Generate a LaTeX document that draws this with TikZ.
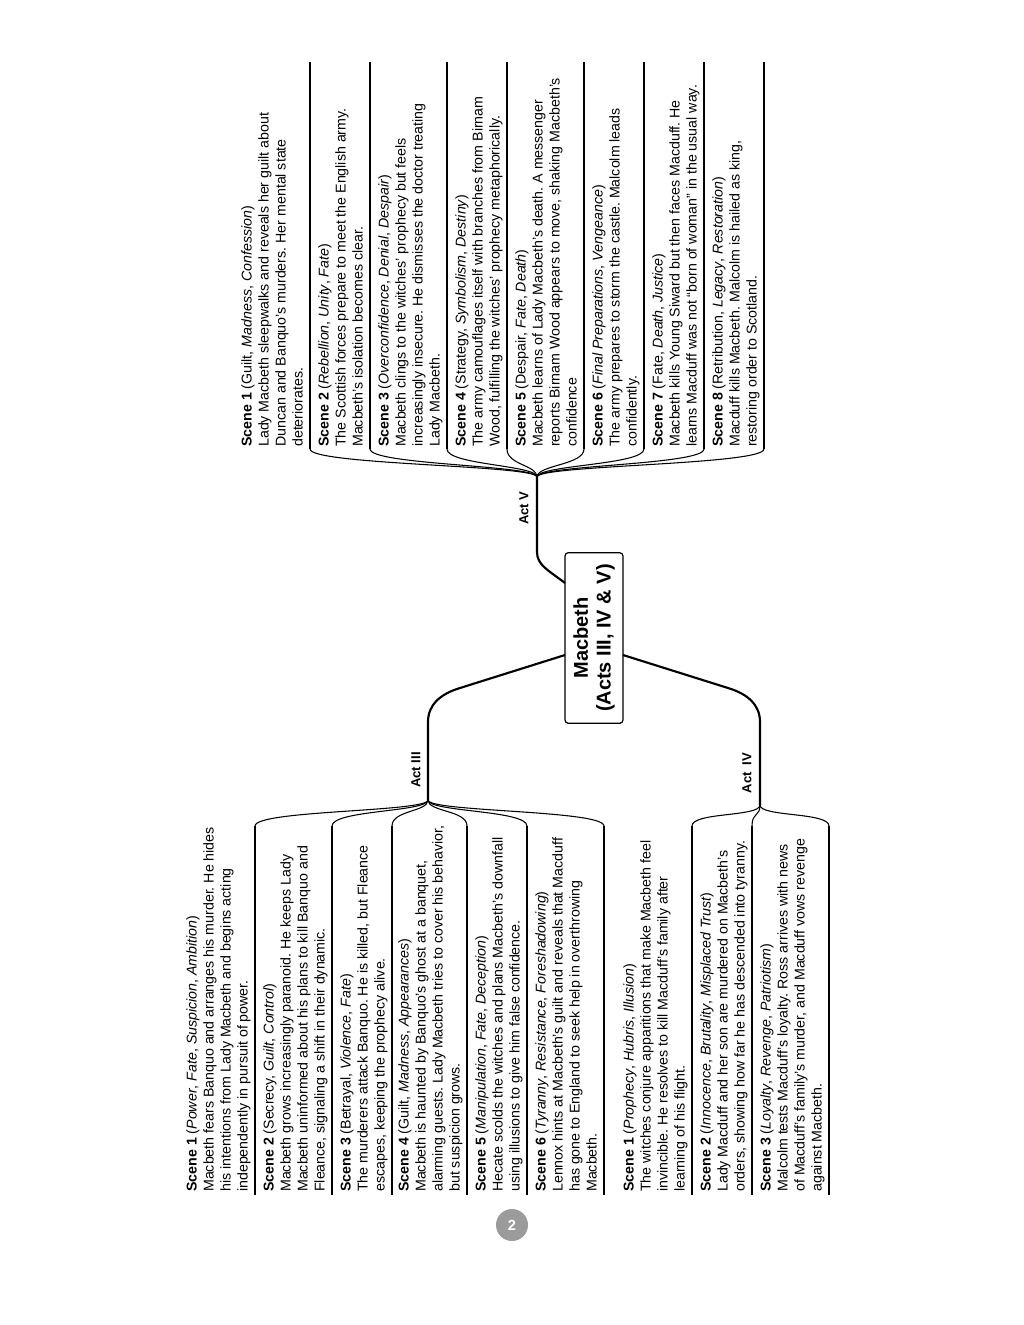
\documentclass[tikz,border=0pt]{standalone}
\usepackage{fontspec}
\setmainfont{Liberation Sans}
\definecolor{pnum}{HTML}{9B9B9B}
\frenchspacing
\begin{document}
\begin{tikzpicture}[x=0.75pt,y=-0.75pt,
  scene/.style={rotate=90, anchor=south west, align=left, inner sep=0pt,
    font=\fontsize{10.65}{12.75}\selectfont, text depth=3pt},
  uline/.style={line width=0.9pt},
  brace/.style={line width=0.8pt},
  stem/.style={line width=1.6pt},
  actlabel/.style={rotate=90, inner sep=0pt, font=\bfseries\fontsize{9.8}{12}\selectfont},
  mainbox/.style={rotate=90, draw, line width=0.9pt, rounded corners=2.5pt, align=center,
    minimum width=128pt, minimum height=43.5pt, inner sep=2pt,
    font=\bfseries\fontsize{15}{17}\selectfont}]
\useasboundingbox (0,0) rectangle (1024,1325);

% central node
\node[mainbox] (mb) at (594,638) {Macbeth\\(Acts III, IV \& V)};

% stems
\coordinate (m3) at (565,655); \coordinate (k3a) at (460,688); \coordinate (k3) at (428,722); \coordinate (b3) at (428,800);
\coordinate (m4) at (623,655); \coordinate (k4a) at (728,688); \coordinate (k4) at (760,722); \coordinate (b4) at (760,805);
\coordinate (m5) at (565,583); \coordinate (k5) at (537,552); \coordinate (b5) at (537,477);
\draw[stem] (m3) -- (k3a) .. controls (440,694) and (428,705) .. (k3) -- (b3);
\draw[stem] (m4) -- (k4a) .. controls (748,694) and (760,705) .. (k4) -- (b4);
\draw[stem] (m5) .. controls (548,570) and (537,565) .. (k5) -- (b5);

\node[actlabel] (l3) at (416,770) {Act III};
\node[actlabel] (l4) at (747,773) {Act\ \ IV};
\node[actlabel] (l5) at (524,508) {Act V};

% ---------- Act III ----------
\foreach \n/\u in {a/255,b/332,c/392,d/467,e/527,f/604}{
  \coordinate (u3\n) at (\u,826); \coordinate (e3\n) at (\u,1195);
  \draw[brace] (b3) .. controls +(0,12) and +(0,-16) .. (u3\n);
  \draw[uline] (u3\n) -- (e3\n);
}
\node[scene] (t3a) at (252,1192) {\textbf{Scene 1} (\textit{Power}, \textit{Fate}, \textit{Suspicion}, \textit{Ambition})\\Macbeth fears Banquo and arranges his murder. He hides\\his intentions from Lady Macbeth and begins acting\\independently in pursuit of power.};
\node[scene] (t3b) at (329,1192) {\textbf{Scene 2} (Secrecy, \textit{Guilt}, \textit{Control})\\Macbeth grows increasingly paranoid. He keeps Lady\\Macbeth uninformed about his plans to kill Banquo and\\Fleance, signaling a shift in their dynamic.};
\node[scene] (t3c) at (389,1192) {\textbf{Scene 3} (Betrayal, \textit{Violence}, \textit{Fate})\\The murderers attack Banquo. He is killed, but Fleance\\escapes, keeping the prophecy alive.};
\node[scene] (t3d) at (464,1192) {\textbf{Scene 4} (Guilt, \textit{Madness}, \textit{Appearances})\\Macbeth is haunted by Banquo’s ghost at a banquet,\\alarming guests. Lady Macbeth tries to cover his behavior,\\but suspicion grows.};
\node[scene] (t3e) at (524,1192) {\textbf{Scene 5} (\textit{Manipulation}, \textit{Fate}, \textit{Deception})\\Hecate scolds the witches and plans Macbeth’s downfall\\using illusions to give him false confidence.};
\node[scene] (t3f) at (601,1192) {\textbf{Scene 6} (\textit{Tyranny}, \textit{Resistance}, \textit{Foreshadowing})\\Lennox hints at Macbeth’s guilt and reveals that Macduff\\has gone to England to seek help in overthrowing\\Macbeth.};

% ---------- Act IV ----------
\foreach \n/\u in {a/692,b/752,c/829}{
  \coordinate (u4\n) at (\u,826); \coordinate (e4\n) at (\u,1195);
  \draw[brace] (b4) .. controls +(0,12) and +(0,-14) .. (u4\n);
  \draw[uline] (u4\n) -- (e4\n);
}
\node[scene] (t4a) at (689,1192) {\textbf{Scene 1} (\textit{Prophecy}, \textit{Hubris}, \textit{Illusion})\\The witches conjure apparitions that make Macbeth feel\\invincible. He resolves to kill Macduff’s family after\\learning of his flight.};
\node[scene] (t4b) at (749,1192) {\textbf{Scene 2} (\textit{Innocence}, \textit{Brutality}, \textit{Misplaced Trust})\\Lady Macduff and her son are murdered on Macbeth’s\\orders, showing how far he has descended into tyranny.};
\node[scene] (t4c) at (826,1192) {\textbf{Scene 3} (\textit{Loyalty}, \textit{Revenge}, \textit{Patriotism})\\Malcolm tests Macduff’s loyalty. Ross arrives with news\\of Macduff’s family’s murder, and Macduff vows revenge\\against Macbeth.};

% ---------- Act V ----------
\foreach \n/\u in {a/310,b/370,c/447,d/507,e/584,f/644,g/704,h/764}{
  \coordinate (u5\n) at (\u,449); \coordinate (e5\n) at (\u,62);
  \draw[brace] (b5) .. controls +(0,-12) and +(0,16) .. (u5\n);
  \draw[uline] (u5\n) -- (e5\n);
}
\node[scene] (t5a) at (307,447) {\textbf{Scene 1} (Guilt, \textit{Madness}, \textit{Confession})\\Lady Macbeth sleepwalks and reveals her guilt about\\Duncan and Banquo’s murders. Her mental state\\deteriorates.};
\node[scene] (t5b) at (367,447) {\textbf{Scene 2} (\textit{Rebellion}, \textit{Unity}, \textit{Fate})\\The Scottish forces prepare to meet the English army.\\Macbeth’s isolation becomes clear.};
\node[scene] (t5c) at (444,447) {\textbf{Scene 3} (\textit{Overconfidence}, \textit{Denial}, \textit{Despair})\\Macbeth clings to the witches’ prophecy but feels\\increasingly insecure. He dismisses the doctor treating\\Lady Macbeth.};
\node[scene] (t5d) at (504,447) {\textbf{Scene 4} (Strategy, \textit{Symbolism}, \textit{Destiny})\\The army camouflages itself with branches from Birnam\\Wood, fulfilling the witches’ prophecy metaphorically.};
\node[scene] (t5e) at (581,447) {\textbf{Scene 5} (Despair, \textit{Fate}, \textit{Death})\\Macbeth learns of Lady Macbeth’s death. A messenger\\reports Birnam Wood appears to move, shaking Macbeth’s\\confidence};
\node[scene] (t5f) at (641,447) {\textbf{Scene 6} (\textit{Final Preparations}, \textit{Vengeance})\\The army prepares to storm the castle. Malcolm leads\\confidently.};
\node[scene] (t5g) at (701,447) {\textbf{Scene 7} (Fate, \textit{Death}, \textit{Justice})\\Macbeth kills Young Siward but then faces Macduff. He\\learns Macduff was not “born of woman” in the usual way.};
\node[scene] (t5h) at (761,447) {\textbf{Scene 8} (Retribution, \textit{Legacy}, \textit{Restoration})\\Macduff kills Macbeth. Malcolm is hailed as king,\\restoring order to Scotland.};

% page number
\node[circle, fill=pnum, minimum size=24pt, inner sep=0pt, text=white,
  font=\bfseries\fontsize{11}{13}\selectfont] (pg) at (512,1225) {2};
\end{tikzpicture}
\end{document}
